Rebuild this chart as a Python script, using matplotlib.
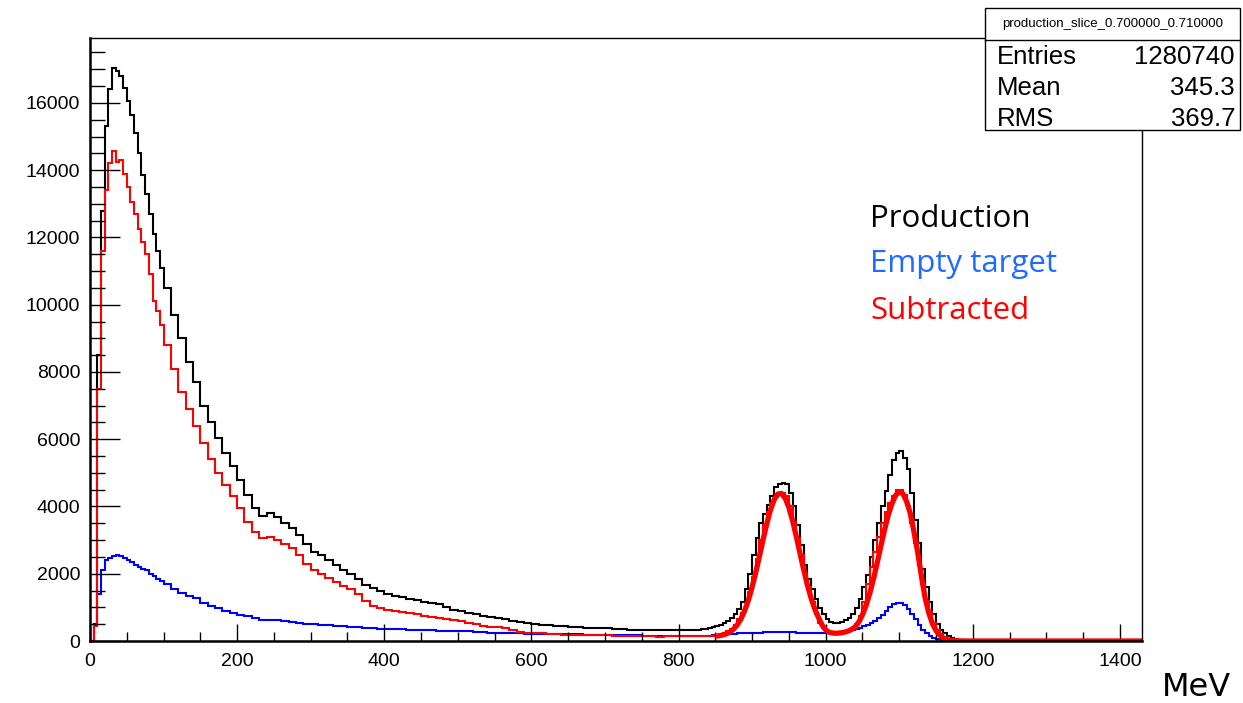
import numpy as np
import matplotlib
matplotlib.use("Agg")
import matplotlib.pyplot as plt
from matplotlib.patches import Rectangle
from matplotlib.lines import Line2D

# binning: 5 MeV on 0-100, 10 MeV on 100-840, 5 MeV on 840-1200, empty up to 1430
x_max = 1430

# ---- Production (black)
production_low = [
    0, 500, 8500, 12800, 15300, 16400, 17050, 16950, 16800, 16450,
    16050, 15650, 15100, 14500, 13850, 13300, 12700, 12100, 11600, 11100,
]
production_mid = [
    10500, 9700, 9000, 8300, 7700, 7000, 6500, 6050, 5600, 5200,
    4800, 4350, 3950, 3720, 3800, 3680, 3520, 3350, 3150, 2880,
    2650, 2550, 2420, 2270, 2100, 1980, 1830, 1680, 1580, 1500,
    1400, 1330, 1300, 1260, 1210, 1170, 1130, 1100, 1000, 930,
    890, 830, 790, 750, 710, 680, 640, 600, 570, 530,
    500, 490, 470, 450, 440, 420, 405, 400, 395, 390,
    375, 360, 350, 340, 330, 330, 330, 325, 325, 325,
    330, 330, 335, 350,
]
production_peaks = [
    380, 420, 450, 490, 540, 600, 680, 790, 950, 1150,
    1550, 2000, 2550, 3050, 3500, 3780, 4050, 4300, 4580, 4670,
    4700, 4680, 4400, 4000, 3450, 2850, 2250, 1850, 1550, 1250,
    980, 800, 650, 570, 540, 525, 560, 610, 680, 800,
    980, 1250, 1600, 1950, 2500, 3000, 3500, 4000, 4450, 4950,
    5380, 5580, 5650, 5450, 5100, 4400, 3600, 2900, 2150, 1600,
    1150, 800, 520, 340, 230, 140, 80, 45, 20, 10,
    5, 0,
]

# ---- Empty target (blue)
empty_low = [
    0, 480, 1400, 2100, 2400, 2480, 2530, 2560, 2520, 2470,
    2400, 2340, 2270, 2200, 2150, 2110, 2000, 1920, 1850, 1780,
]
empty_mid = [
    1700, 1560, 1430, 1350, 1270, 1130, 1050, 990, 900, 840,
    780, 740, 680, 630, 635, 620, 590, 565, 545, 520,
    500, 475, 465, 450, 440, 425, 410, 395, 380, 360,
    355, 350, 345, 335, 328, 320, 315, 308, 303, 300,
    295, 285, 272, 260, 245, 230, 228, 228, 225, 215,
    210, 207, 203, 200, 198, 198, 196, 190, 182, 178,
    172, 168, 168, 168, 168, 162, 155, 150, 150, 150,
    150, 150, 150, 155,
]
empty_peaks = [
    160, 170, 175, 180, 188, 195, 205, 215, 225, 230,
    235, 240, 245, 248, 250, 258, 265, 270, 277, 278,
    276, 270, 262, 255, 248, 242, 236, 232, 230, 228,
    228, 230, 236, 242, 247, 252, 262, 272, 290, 320,
    350, 400, 440, 490, 530, 600, 680, 760, 880, 1000,
    1100, 1140, 1140, 1060, 950, 800, 640, 480, 340, 240,
    150, 95, 55, 30, 15, 8, 3, 0, 0, 0,
    0, 0,
]

# ---- Subtracted (red)
subtracted_low = [
    0, 450, 7500, 11600, 13400, 14200, 14580, 14250, 14300, 13900,
    13500, 13050, 12700, 12250, 11850, 11500, 10900, 10100, 9800, 9400,
]
subtracted_mid = [
    8800, 8100, 7400, 6900, 6400, 5900, 5400, 5000, 4650, 4300,
    3950, 3550, 3250, 3060, 3100, 3000, 2880, 2760, 2560, 2300,
    2100, 2000, 1880, 1750, 1650, 1560, 1400, 1200, 1050, 970,
    930, 890, 860, 825, 790, 750, 715, 680, 640, 610,
    580, 550, 500, 460, 430, 420, 380, 330, 280, 250,
    235, 225, 210, 200, 190, 185, 180, 178, 178, 175,
    165, 158, 155, 150, 150, 145, 135, 130, 140, 150,
    150, 150, 145, 140,
]
subtracted_peaks = [
    140, 150, 165, 180, 230, 290, 360, 480, 650, 820,
    1050, 1450, 1900, 2450, 3000, 3450, 3850, 4100, 4290, 4390,
    4400, 4300, 4000, 3550, 3050, 2550, 2000, 1600, 1150, 800,
    550, 380, 290, 250, 245, 250, 270, 300, 340, 400,
    520, 750, 1150, 1700, 2200, 2650, 3100, 3500, 3850, 4100,
    4300, 4480, 4500, 4350, 4000, 3500, 2900, 2250, 1700, 1200,
    850, 550, 330, 200, 110, 60, 30, 12, 5, 0,
    0, 0,
]

# fitted curve on the subtracted spectrum (thick red line)
fit_x = [
    850, 855, 860, 865, 870, 875, 880, 885, 890, 895,
    900, 905, 910, 915, 920, 925, 930, 935, 940, 945,
    950, 955, 960, 965, 970, 975, 980, 985, 990, 995,
    1000, 1005, 1010, 1015, 1020, 1025, 1030, 1035, 1040, 1045,
    1050, 1055, 1060, 1065, 1070, 1075, 1080, 1085, 1090, 1095,
    1100, 1105, 1110, 1115, 1120, 1125, 1130, 1135, 1140, 1145,
    1150, 1155, 1160, 1165, 1170, 1180, 1190, 1430,
]
fit_y = [
    144, 156, 177, 213, 270, 357, 485, 665, 908, 1218,
    1598, 2039, 2521, 3018, 3490, 3899, 4203, 4371, 4387, 4248,
    3969, 3578, 3114, 2620, 2132, 1681, 1287, 963, 708, 480,
    330, 260, 235, 230, 240, 260, 290, 340, 420, 560,
    780, 1060, 1420, 1850, 2320, 2820, 3300, 3740, 4080, 4330,
    4440, 4380, 4150, 3800, 3250, 2650, 1950, 1300, 850, 520,
    310, 180, 90, 45, 20, 5, 0, 0,
]

edges = np.r_[np.arange(0, 100, 5), np.arange(100, 840, 10),
              np.arange(840, 1200, 5), np.arange(1200, x_max + 1, 10)]
n_empty = len(edges) - 1 - len(production_low) - len(production_mid) - len(production_peaks)
tail = np.zeros(n_empty)


def series(low, mid, peaks):
    return np.r_[low, mid, peaks, tail]


W, H = 1243, 703
fig = plt.figure(figsize=(W / 100, H / 100), dpi=100)
ax = fig.add_axes([90 / W, 1 - 641 / H, (1142 - 90) / W, (641 - 38) / H])

ax.stairs(series(production_low, production_mid, production_peaks), edges,
          color="black", lw=1.5, baseline=None)
ax.stairs(series(empty_low, empty_mid, empty_peaks), edges,
          color="#0000ff", lw=1.5, baseline=None)
ax.stairs(series(subtracted_low, subtracted_mid, subtracted_peaks), edges,
          color="#ff0000", lw=1.5, baseline=None)
ax.plot(fit_x, fit_y, color="#ff0000", lw=3.8, solid_capstyle="butt")

ax.set_xlim(0, x_max)
ax.set_ylim(0, 17930)
ax.set_xticks(np.arange(0, 1401, 200))
ax.set_xticks(np.arange(0, 1430, 50), minor=True)
ax.set_yticks(np.arange(0, 16001, 2000))
ax.set_yticks(np.arange(0, 17900, 500), minor=True)

ax.tick_params(axis="x", which="major", direction="in", length=12.2, width=1.0,
               labelsize=14, pad=8.5)
ax.tick_params(axis="x", which="minor", direction="in", length=6.5, width=1.0)
ax.tick_params(axis="y", which="major", direction="in", length=21.6, width=1.0,
               labelsize=14, pad=7)
ax.tick_params(axis="y", which="minor", direction="in", length=10.8, width=1.0)
for lab in ax.get_xticklabels() + ax.get_yticklabels():
    lab.set_fontfamily("Liberation Sans")

ax.spines["left"].set_linewidth(1.8)
ax.spines["bottom"].set_linewidth(1.8)
ax.spines["top"].set_linewidth(1.0)
ax.spines["right"].set_linewidth(1.0)

fig.text(1162 / W, 1 - 688 / H, "MeV", fontsize=23, family="DejaVu Sans",
         va="center", ha="left")

# legend text
fig.text(870 / W, 1 - 219 / H, "Production", color="black", fontsize=22.5,
         family="Open Sans", va="center")
fig.text(870 / W, 1 - 264 / H, "Empty target", color="#1f6bff", fontsize=22.5,
         family="Open Sans", va="center")
fig.text(870 / W, 1 - 311 / H, "Subtracted", color="#ff0000", fontsize=22.5,
         family="Open Sans", va="center")

# stats box
bx0, by0, bx1, by1 = 985, 8, 1240, 130
fig.patches.append(Rectangle((bx0 / W, 1 - by1 / H), (bx1 - bx0) / W, (by1 - by0) / H,
                             transform=fig.transFigure, facecolor="white",
                             edgecolor="black", lw=1.0, zorder=5))
fig.lines.append(Line2D([bx0 / W, bx1 / W], [1 - 40 / H, 1 - 40 / H],
                        transform=fig.transFigure, color="black", lw=1.0, zorder=6))
fig.text((bx0 + bx1) / 2 / W, 1 - 24 / H, "production_slice_0.700000_0.710000",
         fontsize=9.5, family="Liberation Sans", ha="center", va="center", zorder=7)
rows = [("Entries", "1280740"), ("Mean", "345.3"), ("RMS", "369.7")]
for i, (k, v) in enumerate(rows):
    yy = 1 - (57 + 31 * i) / H
    fig.text(997 / W, yy, k, fontsize=18.5, family="Liberation Sans", va="center", zorder=7)
    fig.text(1235 / W, yy, v, fontsize=18.5, family="Liberation Sans", va="center",
             ha="right", zorder=7)

fig.savefig("out.png", dpi=100)
